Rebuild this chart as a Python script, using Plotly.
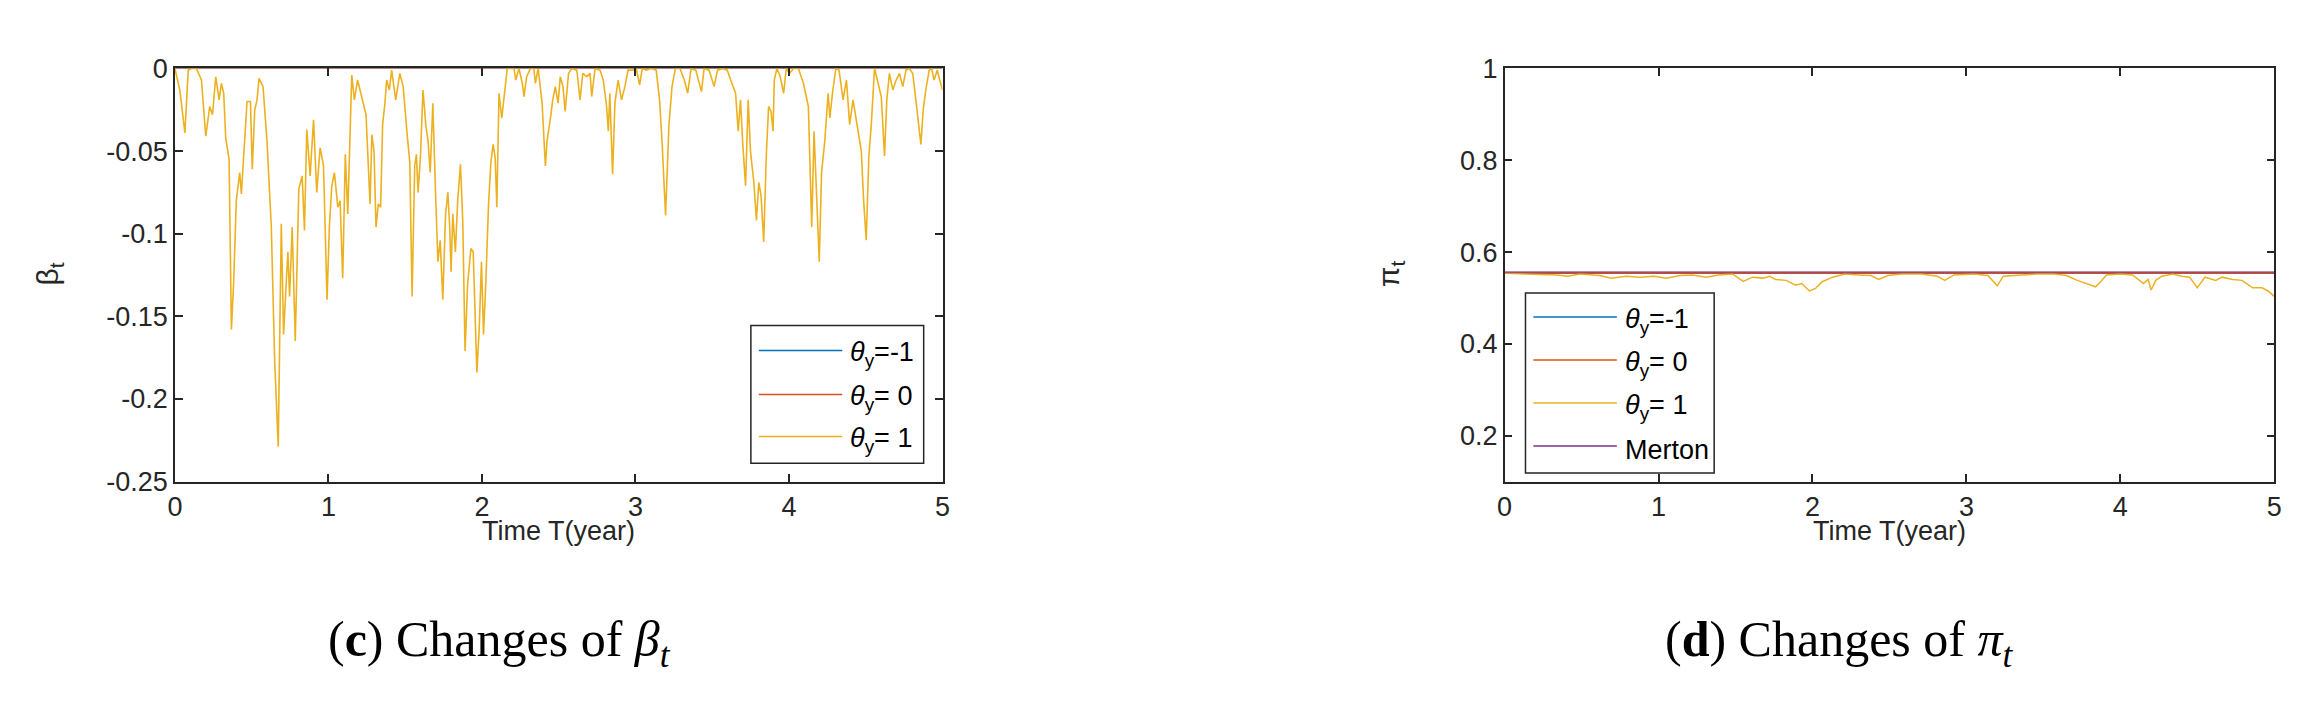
import plotly.graph_objects as go

W, H = 2312, 702

# ---------------- data ----------------
time_flat = [0, 5]

# beta_t, theta_y = -1 and theta_y = 0 (flat at zero)
beta_theta_m1 = [0.0, 0.0]
beta_theta_0 = [0.0, 0.0]

# beta_t, theta_y = 1
beta_time = [
    0.0, 0.032, 0.065, 0.087, 0.108, 0.14, 0.173, 0.201, 0.227, 0.245, 0.266, 0.288, 0.303, 0.318,
    0.331, 0.353, 0.368, 0.383, 0.40, 0.422, 0.433, 0.448, 0.47, 0.492, 0.504, 0.52, 0.535, 0.548,
    0.574, 0.60, 0.628, 0.65, 0.66, 0.673, 0.693, 0.708, 0.725, 0.736, 0.747, 0.764, 0.784, 0.807,
    0.829, 0.844, 0.859, 0.881, 0.903, 0.924, 0.946, 0.968, 0.978, 0.991, 1.006, 1.022, 1.039, 1.061,
    1.076, 1.093, 1.11, 1.126, 1.152, 1.169, 1.19, 1.212, 1.245,
    1.271, 1.283, 1.297, 1.31, 1.325, 1.34, 1.353, 1.368, 1.379, 1.397, 1.412, 1.438, 1.465, 1.487,
    1.513, 1.53, 1.545, 1.562, 1.573, 1.584, 1.599, 1.616, 1.634, 1.649, 1.663, 1.68, 1.698, 1.713,
    1.728, 1.745, 1.763, 1.778, 1.789, 1.799, 1.81, 1.827, 1.842, 1.86, 1.875, 1.89, 1.907, 1.928,
    1.943, 1.956, 1.967, 1.982, 1.997, 2.01, 2.025, 2.043, 2.058, 2.073, 2.086, 2.097, 2.111, 2.129,
    2.144, 2.165, 2.187, 2.209, 2.22, 2.241, 2.263, 2.274, 2.291, 2.316, 2.338, 2.348, 2.366, 2.392,
    2.413, 2.424, 2.446, 2.461, 2.478, 2.496,
    2.51, 2.528, 2.542, 2.564, 2.585, 2.618, 2.639, 2.657, 2.683, 2.704, 2.715, 2.737, 2.769, 2.79,
    2.812, 2.823, 2.833, 2.851, 2.866, 2.887, 2.909, 2.931, 2.952, 2.981, 3.005, 3.027, 3.044, 3.07,
    3.103, 3.135, 3.157, 3.174, 3.196, 3.218, 3.238, 3.26, 3.29, 3.303, 3.318, 3.34, 3.362, 3.393,
    3.43, 3.447, 3.48, 3.512, 3.534, 3.566, 3.598, 3.62, 3.652, 3.669, 3.684, 3.699, 3.717, 3.734,
    3.749, 3.771, 3.788, 3.803, 3.818, 3.835, 3.852, 3.867, 3.883, 3.896, 3.904, 3.921, 3.943, 3.965,
    3.982, 4.003, 4.029, 4.061, 4.094, 4.126, 4.148, 4.163, 4.18, 4.197, 4.212, 4.233, 4.255, 4.266,
    4.283, 4.305, 4.326, 4.352, 4.374, 4.395, 4.417, 4.443, 4.471, 4.486, 4.503, 4.52, 4.536, 4.557,
    4.579, 4.601, 4.622, 4.637, 4.654, 4.676, 4.698, 4.719, 4.741, 4.762, 4.784, 4.806, 4.826, 4.848,
    4.859, 4.874, 4.891, 4.913, 4.929, 4.945, 4.966, 4.981, 5.0,
]
beta_theta_1 = [
    0.0, -0.013, -0.039, -0.001, 0.0, 0.0, -0.007, -0.041, -0.023, -0.028, -0.005, -0.019, -0.009, -0.015,
    -0.042, -0.055, -0.158, -0.129, -0.08, -0.063, -0.076, -0.052, -0.02, -0.02, -0.061, -0.025, -0.019, -0.006,
    -0.011, -0.044, -0.096, -0.177, -0.196, -0.229, -0.094, -0.161, -0.13, -0.111, -0.138, -0.096, -0.165, -0.073,
    -0.065, -0.098, -0.037, -0.065, -0.031, -0.075, -0.048, -0.059, -0.094, -0.14, -0.096, -0.071, -0.063, -0.084,
    -0.08, -0.127, -0.052, -0.088, -0.004, -0.019, -0.007, -0.015, -0.028,
    -0.082, -0.04, -0.05, -0.096, -0.082, -0.084, -0.034, -0.021, -0.007, -0.013, -0.001, -0.019, -0.003, -0.011,
    -0.04, -0.057, -0.138, -0.059, -0.052, -0.075, -0.054, -0.013, -0.034, -0.044, -0.063, -0.021, -0.076, -0.117,
    -0.104, -0.14, -0.088, -0.075, -0.094, -0.123, -0.088, -0.111, -0.08, -0.058, -0.092, -0.171, -0.13, -0.109,
    -0.111, -0.158, -0.184, -0.158, -0.117, -0.161, -0.13, -0.082, -0.057, -0.046, -0.054, -0.084, -0.015, -0.03,
    -0.019, 0.0, 0.0, 0.0, -0.007, 0.0, -0.009, -0.017, -0.005, 0.0, 0.0, -0.009, 0.0, -0.021,
    -0.059, -0.044, -0.03, -0.019, -0.011, -0.021,
    -0.005, -0.011, -0.026, -0.003, 0.0, -0.001, -0.019, -0.003, -0.005, -0.003, -0.017, 0.0, -0.001, -0.007,
    -0.023, -0.038, -0.015, -0.064, -0.021, -0.007, -0.019, -0.011, -0.001, -0.001, 0.0, -0.01, 0.0, -0.001,
    0.0, -0.001, -0.019, -0.046, -0.089, -0.034, -0.011, 0.0, 0.0, -0.003, -0.007, -0.015, 0.0, -0.001,
    -0.014, 0.0, -0.001, -0.011, -0.001, 0.0, -0.001, -0.007, -0.015, -0.038, -0.019, -0.046, -0.071, -0.019,
    -0.05, -0.069, -0.092, -0.069, -0.077, -0.105, -0.053, -0.023, -0.026, -0.038, -0.007, 0.0, -0.005, -0.015,
    0.0, -0.003, 0.0, 0.0, -0.009, -0.023, -0.096, -0.038, -0.082, -0.117, -0.063, -0.044, -0.015, -0.03,
    -0.015, 0.0, -0.001, -0.019, -0.007, -0.034, -0.019, -0.034, -0.05, -0.08, -0.104, -0.053, -0.034, 0.0,
    -0.009, -0.017, -0.053, -0.019, -0.003, -0.013, -0.007, -0.003, -0.011, -0.001, 0.0, -0.003, -0.019, -0.036,
    -0.046, -0.025, -0.013, -0.001, 0.0, -0.007, -0.001, -0.007, -0.013,
]

# pi_t
pi_theta_m1 = [0.554, 0.554]
pi_theta_0 = [0.554, 0.554]
pi_merton = [0.5562, 0.5562]
pi_time = [
    0.0, 0.19, 0.34, 0.41, 0.49, 0.62, 0.69, 0.79, 0.88, 0.97, 1.05, 1.14, 1.22, 1.31, 1.39, 1.48,
    1.55, 1.61, 1.68, 1.72, 1.76, 1.83, 1.89, 1.93, 1.98, 2.02, 2.06, 2.13, 2.21, 2.30, 2.38, 2.43,
    2.49, 2.58, 2.71, 2.81, 2.86, 2.92, 3.05, 3.14, 3.18, 3.20, 3.24, 3.35, 3.46, 3.57, 3.65, 3.72,
    3.78, 3.84, 3.87, 3.91, 4.00, 4.08, 4.15, 4.18, 4.20, 4.23, 4.27, 4.34, 4.40, 4.45, 4.50, 4.55,
    4.62, 4.66, 4.73, 4.79, 4.86, 4.92, 4.96, 5.00,
]
pi_theta_1 = [
    0.5537, 0.5523, 0.5502, 0.5474, 0.5523, 0.5488, 0.5432, 0.5474, 0.5453, 0.5474, 0.5432, 0.5488,
    0.5502, 0.5453, 0.5502, 0.5523, 0.5362, 0.5453, 0.5432, 0.5474, 0.5404, 0.5383, 0.5278, 0.5313,
    0.5152, 0.5208, 0.5348, 0.5453, 0.5523, 0.5502, 0.5488, 0.5404, 0.5488, 0.5523, 0.5523, 0.5474,
    0.5383, 0.5502, 0.5523, 0.5488, 0.5348, 0.5264, 0.5474, 0.5502, 0.5523, 0.5523, 0.5488, 0.5383,
    0.5313, 0.5243, 0.5348, 0.5502, 0.5523, 0.5502, 0.5313, 0.5404, 0.5173, 0.5383, 0.5474, 0.5523,
    0.5474, 0.5453, 0.5222, 0.5453, 0.5383, 0.5453, 0.5404, 0.5383, 0.5222, 0.5222, 0.5152, 0.5033,
]

x_ticks = [0, 1, 2, 3, 4, 5]
x_ticktext = ["0", "1", "2", "3", "4", "5"]
beta_yticks = [0, -0.05, -0.1, -0.15, -0.2, -0.25]
beta_yticktext = ["0", "-0.05", "-0.1", "-0.15", "-0.2", "-0.25"]
pi_yticks = [0.2, 0.4, 0.6, 0.8, 1.0]
pi_yticktext = ["0.2", "0.4", "0.6", "0.8", "1"]

legend_beta = ["<i>θ</i><sub>y</sub>=-1", "<i>θ</i><sub>y</sub>= 0", "<i>θ</i><sub>y</sub>= 1"]
legend_pi = ["<i>θ</i><sub>y</sub>=-1", "<i>θ</i><sub>y</sub>= 0", "<i>θ</i><sub>y</sub>= 1", "Merton"]

# ---------------- style ----------------
C_BLUE, C_ORANGE, C_YELLOW, C_PURPLE = "#0072BD", "#D95319", "#EDB120", "#7E2F8E"
AX = "#262626"
SANS = "Liberation Sans, Arial, sans-serif"
SERIF = "Liberation Serif, Times New Roman, serif"
FS = 27


def fx(px):
    return px / W


def fy(py):
    return 1 - py / H


fig = go.Figure()

# left panel
fig.add_trace(go.Scatter(x=time_flat, y=beta_theta_m1, mode="lines", line=dict(color=C_BLUE, width=1.2),
                         xaxis="x", yaxis="y", showlegend=False))
fig.add_trace(go.Scatter(x=time_flat, y=beta_theta_0, mode="lines", line=dict(color=C_ORANGE, width=1.2),
                         xaxis="x", yaxis="y", showlegend=False))
fig.add_trace(go.Scatter(x=beta_time, y=beta_theta_1, mode="lines", line=dict(color=C_YELLOW, width=1.6),
                         xaxis="x", yaxis="y", showlegend=False))

# right panel
fig.add_trace(go.Scatter(x=time_flat, y=pi_theta_m1, mode="lines", line=dict(color=C_BLUE, width=1.2),
                         xaxis="x2", yaxis="y2", showlegend=False))
fig.add_trace(go.Scatter(x=time_flat, y=pi_theta_0, mode="lines", line=dict(color=C_ORANGE, width=1.6),
                         xaxis="x2", yaxis="y2", showlegend=False))
fig.add_trace(go.Scatter(x=pi_time, y=pi_theta_1, mode="lines", line=dict(color=C_YELLOW, width=1.5),
                         xaxis="x2", yaxis="y2", showlegend=False))
fig.add_trace(go.Scatter(x=time_flat, y=pi_merton, mode="lines", line=dict(color=C_PURPLE, width=2.2),
                         opacity=0.55, xaxis="x2", yaxis="y2", showlegend=False))

axis_common = dict(
    showline=True, linecolor=AX, linewidth=1.5, mirror="ticks", ticks="inside", ticklen=8,
    tickwidth=1.5, tickcolor=AX, showgrid=False, zeroline=False,
    tickfont=dict(family=SANS, size=FS, color=AX),
)

ydom = [fy(479), fy(47.5)]
fig.update_layout(
    width=W, height=H,
    margin=dict(l=0, r=0, t=0, b=0),
    paper_bgcolor="white", plot_bgcolor="white",
    showlegend=False,
    xaxis=dict(domain=[fx(160), fx(933)], range=[0, 5], tickvals=x_ticks, ticktext=x_ticktext,
               anchor="y", **axis_common),
    yaxis=dict(domain=ydom, range=[-0.25, 0], tickvals=beta_yticks, ticktext=beta_yticktext,
               anchor="x", **axis_common),
    xaxis2=dict(domain=[fx(1499), fx(2274)], range=[0, 5], tickvals=x_ticks, ticktext=x_ticktext,
                anchor="y2", **axis_common),
    yaxis2=dict(domain=ydom, range=[0.1, 1.0], tickvals=pi_yticks, ticktext=pi_yticktext,
                anchor="x2", **axis_common),
)

annotations = []
shapes = []

# axis titles
for cx in [(160 + 933) / 2, (1499 + 2274) / 2]:
    annotations.append(dict(text="Time T(year)", x=fx(cx), y=fy(531), xref="paper", yref="paper",
                            showarrow=False, xanchor="center", yanchor="middle",
                            font=dict(family=SANS, size=FS, color=AX)))
annotations.append(dict(text="β<sub>t</sub>", x=fx(34), y=fy(262), xref="paper", yref="paper",
                        showarrow=False, textangle=-90, xanchor="center", yanchor="middle",
                        font=dict(family=SANS, size=30, color=AX)))
annotations.append(dict(text="π<sub>t</sub>", x=fx(1384), y=fy(262), xref="paper", yref="paper",
                        showarrow=False, textangle=-90, xanchor="center", yanchor="middle",
                        font=dict(family=SANS, size=30, color=AX)))

# captions
annotations.append(dict(text="(<b>c</b>) Changes of <i>β<sub>t</sub></i>", x=fx(487), y=fy(648),
                        xref="paper", yref="paper", showarrow=False, xanchor="center", yanchor="middle",
                        font=dict(family=SERIF, size=50, color="black")))
annotations.append(dict(text="(<b>d</b>) Changes of <i>π<sub>t</sub></i>", x=fx(1836), y=fy(648),
                        xref="paper", yref="paper", showarrow=False, xanchor="center", yanchor="middle",
                        font=dict(family=SERIF, size=50, color="black")))


def add_legend(box, rows, labels, colors, line_x, text_x):
    x0, y0, x1, y1 = box
    shapes.append(dict(type="rect", xref="paper", yref="paper", x0=fx(x0), x1=fx(x1), y0=fy(y1), y1=fy(y0),
                       line=dict(color=AX, width=1.5), fillcolor="white", layer="above"))
    for ry, lab, col in zip(rows, labels, colors):
        shapes.append(dict(type="line", xref="paper", yref="paper", x0=fx(line_x[0]), x1=fx(line_x[1]),
                           y0=fy(ry), y1=fy(ry), line=dict(color=col, width=1.5), layer="above"))
        annotations.append(dict(text=lab, x=fx(text_x), y=fy(ry + 4), xref="paper", yref="paper",
                                showarrow=False, xanchor="left", yanchor="middle",
                                font=dict(family=SANS, size=FS, color="black")))


add_legend((740, 316, 914, 460), [342, 388, 432], legend_beta, [C_BLUE, C_ORANGE, C_YELLOW],
           (748, 832), 838)
add_legend((1520, 282, 1710, 470), [307, 352, 397, 442], legend_pi, [C_BLUE, C_ORANGE, C_YELLOW, C_PURPLE],
           (1528, 1612), 1618)

fig.update_layout(annotations=annotations, shapes=shapes)
fig.write_html("out.html")
